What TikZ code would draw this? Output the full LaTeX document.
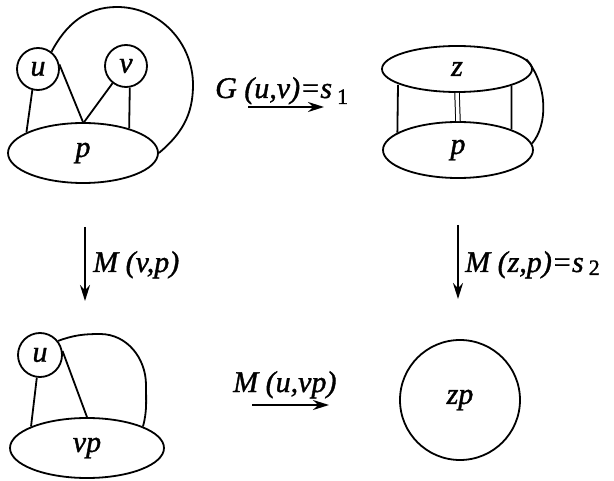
\documentclass[tikz,border=0pt]{standalone}
\usepackage{fontspec}
\setmainfont{Liberation Serif}
\newfontfamily\lblfont{Liberation Serif Italic}[FakeBold=1.2]
\newfontfamily\subfont{Liberation Serif}[FakeBold=1.2]
\usetikzlibrary{shapes.geometric,arrows.meta}
\newcommand{\lowsub}[2]{\,{\fontsize{22}{26}\subfont\raisebox{#2}{#1}}}
\begin{document}
\begin{tikzpicture}[x=1pt,y=1pt,
  every node/.style={font=\fontsize{30}{36}\lblfont},
  lw/.style={line width=1.8pt},
  vtx/.style={circle,draw,lw,inner sep=0pt},
  blob/.style={ellipse,draw,lw,inner sep=0pt},
  mor/.style={line width=2.2pt,-{Stealth[length=16pt,width=10pt]}},
  lab/.style={anchor=base west,inner sep=0pt}]
\useasboundingbox (0,0) rectangle (614,-481);

% ---- top left graph
\node[vtx,minimum size=42pt] (u1) at (38,-69) {u};
\node[vtx,minimum size=42pt] (v1) at (126,-66) {v};
\node[blob,minimum width=150pt,minimum height=60pt] (p1) at (83,-153) {p};
\draw[lw] (u1.255) -- (p1.160);
\draw[lw] (u1.12) -- (p1.north);
\draw[lw] (v1.232) -- (p1.88);
\draw[lw] (v1.280) -- (p1.28);
\draw[lw] (u1.52) to[out=62,in=180] (117,-7) to[out=0,in=90] (193,-85) to[out=-90,in=40] (p1.east);

% ---- top right graph
\node[blob,minimum width=150pt,minimum height=46pt] (z) at (457,-69) {z};
\node[blob,minimum width=150pt,minimum height=56pt] (p2) at (458,-150) {p};
\coordinate (zl) at (398,-85);
\draw[lw] (zl) -- (p2.164);
\draw[line width=1pt,double,double distance=3.5pt] (z.south) -- (p2.north);
\draw[lw] (z.-17) -- (p2.21);
\draw[lw] (z.8) .. controls (548,-85) and (548,-125) .. (p2.5);

% ---- bottom left graph
\node[vtx,minimum size=44pt] (u3) at (40,-355) {u};
\node[blob,minimum width=154pt,minimum height=60pt] (vp) at (87,-448) {vp};
\draw[lw] (u3.262) -- (vp.159);
\draw[lw] (u3.10) -- (vp.north);
\draw[lw] (u3.38) to[out=20,in=180] (100,-334) to[out=0,in=90] (146,-385) to[out=-90,in=75] (vp.21);

% ---- bottom right
\node[vtx,minimum size=120pt] (zp) at (460,-400) {zp};

% ---- arrows
\coordinate (a1s) at (248,-107); \coordinate (a1e) at (324,-107);
\draw[mor] (a1s) -- (a1e);
\node[lab] (g) at (215,-98) {G (u,v)=s\lowsub{1}{-6pt}};

\coordinate (a2s) at (85,-227); \coordinate (a2e) at (85,-301);
\draw[mor] (a2s) -- (a2e);
\node[lab] (m1) at (93,-272) {M (v,p)};

\coordinate (a3s) at (458,-225); \coordinate (a3e) at (458,-299);
\draw[mor] (a3s) -- (a3e);
\node[lab] (m2) at (465,-272) {M (z,p)=s\lowsub{2}{-3pt}};

\coordinate (a4s) at (252,-405); \coordinate (a4e) at (329,-405);
\draw[mor] (a4s) -- (a4e);
\node[lab] (m3) at (233,-392) {M (u,vp)};
\end{tikzpicture}
\end{document}
